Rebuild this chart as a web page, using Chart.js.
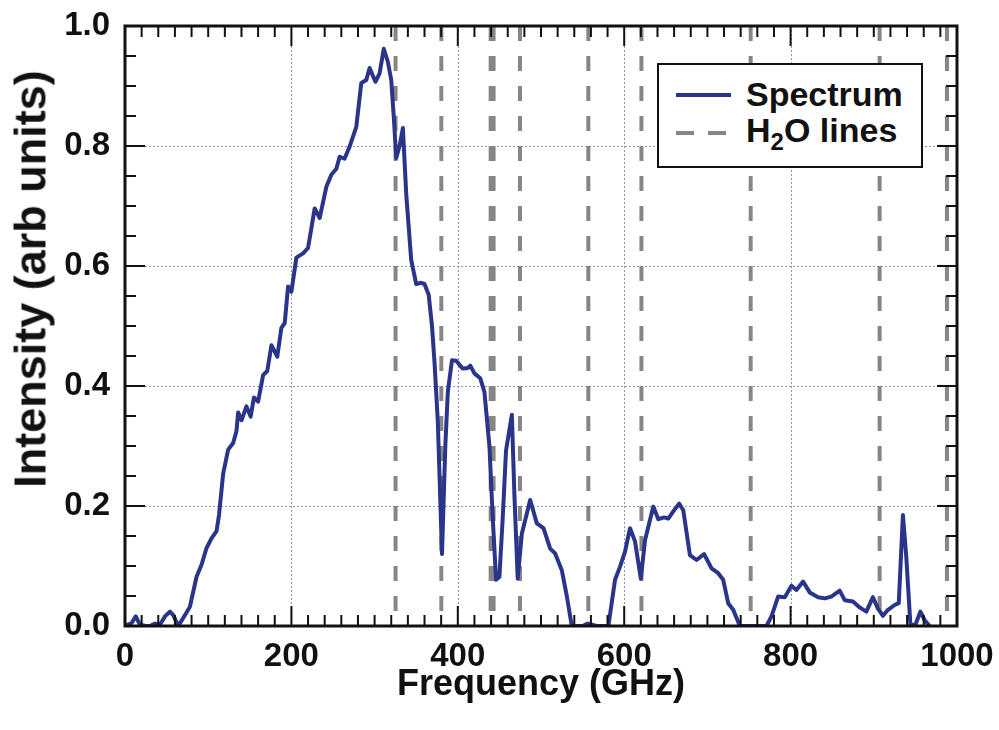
<!DOCTYPE html>
<html lang="en">
<head>
<meta charset="UTF-8">
<title>Spectrum and H2O lines</title>
<style>
  body{margin:0;background:#fff;}
  .wrap{position:relative;width:999px;height:730px;}
  canvas{position:absolute;left:0;top:0;}
  .ytitle{
    position:absolute;left:30px;top:279px;transform:translate(-50%,-50%) rotate(-90deg);
    white-space:nowrap;color:#111;
    font-family:"Liberation Sans",Arial,Helvetica,sans-serif;font-weight:bold;font-size:45px;line-height:45px;
  }
  .legend{
    position:absolute;left:657px;top:63px;width:262px;height:101px;
    border:2px solid #111;background:#fff;color:#111;
    font-family:"Liberation Sans",Arial,Helvetica,sans-serif;font-weight:bold;font-size:34px;line-height:34px;
  }
  .legend .txt{position:absolute;left:87px;white-space:nowrap;}
  .legend .sub{font-size:24px;position:relative;top:8px;}
  .legend .solid{position:absolute;left:17px;width:55px;height:0;border-top:4px solid #29348a;}
  .legend .dash{position:absolute;width:18px;height:0;border-top:4px solid #868686;}
</style>
</head>
<body>
<div class="wrap">
  <canvas id="spec" width="999" height="730"></canvas>
  <div class="ytitle">Intensity (arb units)</div>
  <div class="legend">
    <div class="solid" style="top:28px"></div>
    <div class="txt" style="top:12px">Spectrum</div>
    <div class="dash" style="left:17px;top:66px"></div>
    <div class="dash" style="left:49px;top:66px"></div>
    <div class="txt" style="top:48px">H<span class="sub">2</span>O lines</div>
  </div>
</div>

<script src="https://cdn.jsdelivr.net/npm/chart.js@4.4.1"></script>
<script>
/* ---------- data ---------- */
const freq = [
  0, 8, 13, 18, 25, 30, 36, 42, 48, 54, 58, 64, 72, 78, 86, 92, 98, 104, 110, 113,
  118, 124, 130, 134, 136, 140, 146, 151, 155, 160, 166, 171, 176, 183, 188, 192, 196, 200, 206, 214,
  220, 228, 234, 242, 248, 254, 258, 264, 270, 278, 284, 290, 294, 301, 306, 311, 316, 320, 323, 326,
  330, 334, 338, 344, 350, 356, 360, 365, 369, 372, 376, 381, 385, 388, 393, 398, 406, 412, 415, 420,
  427, 432, 438, 442, 446, 450, 454, 458, 465, 468, 472, 477, 487, 495, 503, 511, 517, 525, 531, 537,
  550, 556, 562, 567, 581, 589, 595, 601, 607, 613, 620, 625, 635, 641, 648, 653, 659, 666, 671, 679,
  687, 696, 705, 713, 719, 725, 731, 739, 771, 777, 785, 793, 801, 807, 815, 823, 833, 841, 849, 859,
  865, 875, 883, 891, 899, 905, 911, 917, 925, 930, 935, 939, 944, 950, 956, 961, 967
];
const intensity = [
  0, 0.005, 0.016, 0.002, 0, 0, 0.004, 0.002, 0.016, 0.024, 0.018, 0, 0.018, 0.032, 0.082, 0.102, 0.13, 0.146, 0.158, 0.185,
  0.254, 0.294, 0.305, 0.325, 0.356, 0.343, 0.366, 0.349, 0.381, 0.374, 0.418, 0.425, 0.468, 0.449, 0.497, 0.505, 0.566, 0.557, 0.614, 0.621,
  0.63, 0.696, 0.68, 0.732, 0.752, 0.762, 0.782, 0.779, 0.799, 0.832, 0.905, 0.91, 0.93, 0.907, 0.921, 0.962, 0.94, 0.91, 0.85, 0.78,
  0.8, 0.83, 0.72, 0.61, 0.57, 0.572, 0.57, 0.552, 0.5, 0.44, 0.34, 0.12, 0.3, 0.39, 0.443, 0.442, 0.429, 0.43, 0.434, 0.421,
  0.413, 0.39, 0.3, 0.18, 0.077, 0.082, 0.18, 0.293, 0.352, 0.22, 0.079, 0.154, 0.21, 0.171, 0.163, 0.129, 0.121, 0.093, 0.05, 0,
  0, 0.004, 0.002, 0, 0, 0.077, 0.099, 0.124, 0.163, 0.141, 0.079, 0.143, 0.199, 0.178, 0.181, 0.179, 0.191, 0.204, 0.193, 0.118,
  0.11, 0.12, 0.096, 0.088, 0.077, 0.038, 0.027, 0, 0, 0.016, 0.049, 0.048, 0.067, 0.06, 0.074, 0.056, 0.048, 0.046, 0.049, 0.059,
  0.043, 0.041, 0.031, 0.024, 0.048, 0.029, 0.017, 0.027, 0.035, 0.038, 0.185, 0.116, 0.002, 0.002, 0.024, 0.01, 0
];
// water absorption lines (GHz)
const h2oLines = [325.2, 380.2, 439.5, 443.0, 474.7, 556.9, 620.7, 752.0, 907.0, 987.9];

const xMajor = [0, 200, 400, 600, 800, 1000];
const yMajor = [0, 0.2, 0.4, 0.6, 0.8, 1.0];

const LINE_BLUE = '#29348a';
const H2O_GREY  = '#868686';
const FONT = '"Liberation Sans", Arial, Helvetica, sans-serif';

/* ---------- grid, inward ticks and frame ---------- */
const framePlugin = {
  id: 'frame',
  beforeDatasetsDraw(chart){
    const {ctx, chartArea:a, scales:{x, y}} = chart;
    ctx.save();
    ctx.strokeStyle = '#8a90c8';
    ctx.lineWidth = 1;
    ctx.setLineDash([2, 2]);
    xMajor.slice(1, -1).forEach(v => {
      const px = Math.round(x.getPixelForValue(v)) + 0.5;
      ctx.beginPath(); ctx.moveTo(px, a.top); ctx.lineTo(px, a.bottom); ctx.stroke();
    });
    yMajor.slice(1, -1).forEach(v => {
      const py = Math.round(y.getPixelForValue(v)) + 0.5;
      ctx.beginPath(); ctx.moveTo(a.left, py); ctx.lineTo(a.right, py); ctx.stroke();
    });
    ctx.restore();
  },
  afterDatasetsDraw(chart){
    const {ctx, chartArea:a, scales:{x, y}} = chart;
    ctx.save();
    ctx.strokeStyle = '#111';
    ctx.lineWidth = 2;
    // x ticks, every 20 GHz, major every 200
    for (let v = 0; v <= 1000; v += 20){
      const len = v % 200 === 0 ? 20 : 11;
      const px = x.getPixelForValue(v);
      ctx.beginPath();
      ctx.moveTo(px, a.bottom); ctx.lineTo(px, a.bottom - len);
      ctx.moveTo(px, a.top);    ctx.lineTo(px, a.top + len);
      ctx.stroke();
    }
    // y ticks, every 0.05, major every 0.2
    for (let i = 0; i <= 20; i++){
      const len = i % 4 === 0 ? 20 : 11;
      const py = y.getPixelForValue(i * 0.05);
      ctx.beginPath();
      ctx.moveTo(a.left, py);  ctx.lineTo(a.left + len, py);
      ctx.moveTo(a.right, py); ctx.lineTo(a.right - len, py);
      ctx.stroke();
    }
    ctx.lineWidth = 3;
    ctx.strokeRect(a.left, a.top, a.right - a.left, a.bottom - a.top);
    ctx.restore();
  }
};

/* ---------- datasets ---------- */
const spectrumData = freq.map((f, i) => ({x: f, y: intensity[i]}));
const datasets = [{
  label: 'Spectrum',
  data: spectrumData,
  borderColor: LINE_BLUE,
  borderWidth: 4,
  pointRadius: 0,
  tension: 0,
  borderJoinStyle: 'round'
}].concat(h2oLines.map(f => ({
  label: 'H2O',
  data: [{x: f, y: 1}, {x: f, y: 0}],
  borderColor: H2O_GREY,
  borderWidth: 4,
  borderDash: [15, 15],
  pointRadius: 0
})));

new Chart(document.getElementById('spec'), {
  type: 'line',
  data: {datasets},
  options: {
    responsive: false,
    animation: false,
    layout: {padding: {top: 26, right: 42, left: 0, bottom: 0}},
    plugins: {legend: {display: false}, tooltip: {enabled: false}},
    scales: {
      x: {
        type: 'linear', min: 0, max: 1000,
        grid: {display: false, drawTicks: false},
        border: {display: false},
        ticks: {stepSize: 200, padding: 11, color: '#111',
                font: {family: FONT, size: 33, weight: 'bold'},
                callback: v => String(v)},
        title: {display: true, text: 'Frequency (GHz)', color: '#111',
                font: {family: FONT, size: 36, weight: 'bold'}, padding: {top: 0, bottom: 23}},
        afterFit(s){ s.height = 104; s.paddingLeft = 0; s.paddingRight = 0; }
      },
      y: {
        min: 0, max: 1,
        grid: {display: false, drawTicks: false},
        border: {display: false},
        ticks: {stepSize: 0.2, padding: 15, color: '#111',
                font: {family: FONT, size: 33, weight: 'bold'},
                callback: v => v.toFixed(1)},
        afterFit(s){ s.width = 125; s.paddingTop = 0; s.paddingBottom = 0; }
      }
    }
  },
  plugins: [framePlugin]
});
</script>
</body>
</html>
